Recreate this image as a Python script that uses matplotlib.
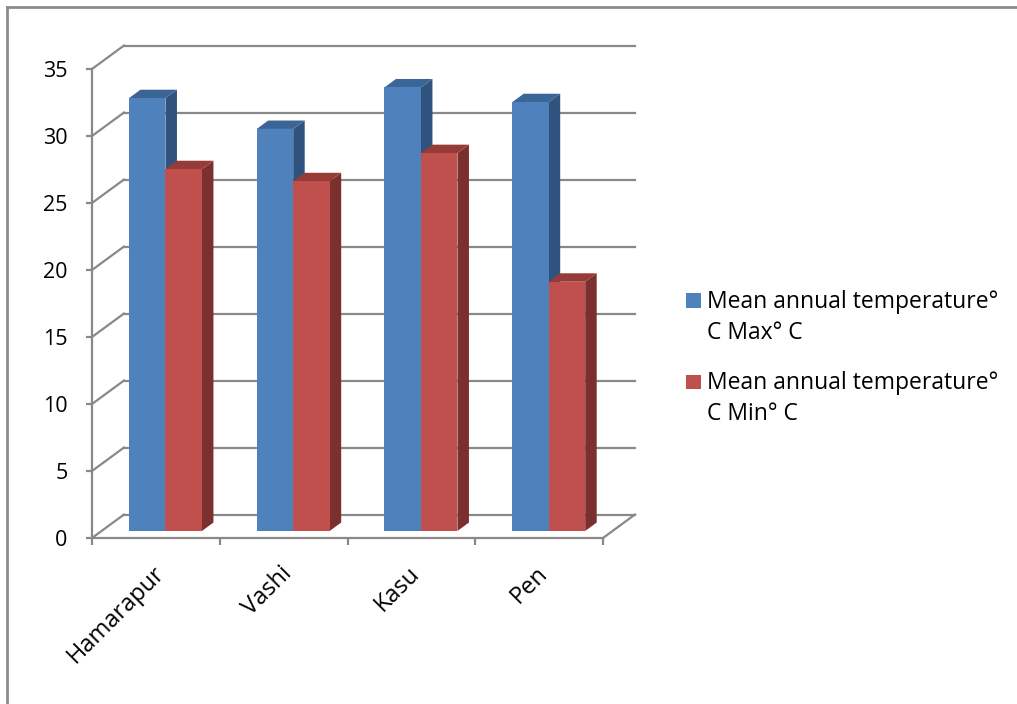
import numpy as np
import matplotlib
matplotlib.use('Agg')
import matplotlib.pyplot as plt
from matplotlib.patches import Polygon, Rectangle
from matplotlib.lines import Line2D

plt.rcParams['font.family'] = ['Open Sans', 'DejaVu Sans']

sites = ['Hamarapur', 'Vashi', 'Kasu', 'Pen']
series_names = ['Mean annual temperature°\nC Max° C',
                'Mean annual temperature°\nC Min° C']
t_max = [32.3, 30.0, 33.1, 32.0]
t_min = [27.0, 26.1, 28.2, 18.6]
y_ticks = [0, 5, 10, 15, 20, 25, 30, 35]

front_cols = ['#4f81bd', '#c0504d']
top_cols = ['#3c6597', '#973b39']
side_cols = ['#30527f', '#7b302e']
grid_col = '#898989'

# oblique depth of floor / back wall (data units), bar width and bar depth planes
DX, DY = 0.25, 1.75
BAR_W = 0.2857
D0, D1 = 0.30, 0.66

W, H = 1017, 704
fig = plt.figure(figsize=(W / 100, H / 100), dpi=100)
ax = fig.add_axes([92 / W, 166 / H, 511 / W, 469 / H])
ax.set_xlim(0, len(sites))
ax.set_ylim(0, 35)
n = len(sites)

# back wall gridlines and left side wall diagonals
for v in y_ticks:
    ax.plot([DX, n + DX], [v + DY, v + DY], color=grid_col, lw=1.6, clip_on=False, zorder=1)
    ax.plot([0, DX], [v, v + DY], color=grid_col, lw=1.6, clip_on=False, zorder=1)
ax.plot([n, n + DX], [0, DY], color=grid_col, lw=1.6, clip_on=False, zorder=1)

# bars as oblique boxes
for i in range(n):
    for s, vals in enumerate([t_max, t_min]):
        v = vals[i]
        x0 = i + 0.5 - BAR_W + s * BAR_W
        x1 = x0 + BAR_W
        fx, fy = D0 * DX, D0 * DY
        bx, by = D1 * DX, D1 * DY
        front = [(x0 + fx, fy), (x1 + fx, fy), (x1 + fx, v + fy), (x0 + fx, v + fy)]
        top = [(x0 + fx, v + fy), (x1 + fx, v + fy), (x1 + bx, v + by), (x0 + bx, v + by)]
        side = [(x1 + fx, fy), (x1 + bx, by), (x1 + bx, v + by), (x1 + fx, v + fy)]
        z = 3 + i * 2 + s
        ax.add_patch(Polygon(side, closed=True, fc=side_cols[s], ec='none', clip_on=False, zorder=z))
        ax.add_patch(Polygon(top, closed=True, fc=top_cols[s], ec='none', clip_on=False, zorder=z))
        ax.add_patch(Polygon(front, closed=True, fc=front_cols[s], ec='none', clip_on=False, zorder=z))

for side_name in ['top', 'right']:
    ax.spines[side_name].set_visible(False)
for side_name in ['left', 'bottom']:
    ax.spines[side_name].set_color(grid_col)
    ax.spines[side_name].set_linewidth(1.6)
    ax.spines[side_name].set_zorder(20)

ax.set_yticks(y_ticks)
ax.tick_params(axis='y', length=4.5, width=1.6, color=grid_col, pad=13, labelsize=15.5)
ax.set_xticks(np.arange(n + 1))
ax.set_xticklabels([])
ax.tick_params(axis='x', which='major', length=5, width=1.6, color=grid_col)
ax.set_xticks(np.arange(n) + 0.54, minor=True)
ax.set_xticklabels(sites, minor=True, rotation=45, ha='right', va='center',
                   rotation_mode='anchor', fontsize=17)
ax.tick_params(axis='x', which='minor', length=0, pad=23)
ax.patch.set_visible(False)

# legend
for s, name in enumerate(series_names):
    yc = 300.5 + s * 81.5
    fig.patches.append(Rectangle((686 / W, 1 - (yc + 7.2) / H), 14.5 / W, 14.5 / H,
                                 transform=fig.transFigure, fc=front_cols[s], ec='none'))
    for j, line in enumerate(name.split('\n')):
        fig.text(707 / W, 1 - (yc + 1 + j * 31.5) / H, line, fontsize=16.5,
                 ha='left', va='center')

# outer chart frame
fig.add_artist(Line2D([7 / W, 7 / W], [0, 1 - 7 / H], color='#8c8c8c', lw=2))
fig.add_artist(Line2D([7 / W, 1], [1 - 7 / H, 1 - 7 / H], color='#8c8c8c', lw=2))

fig.savefig('out.png', dpi=100)
